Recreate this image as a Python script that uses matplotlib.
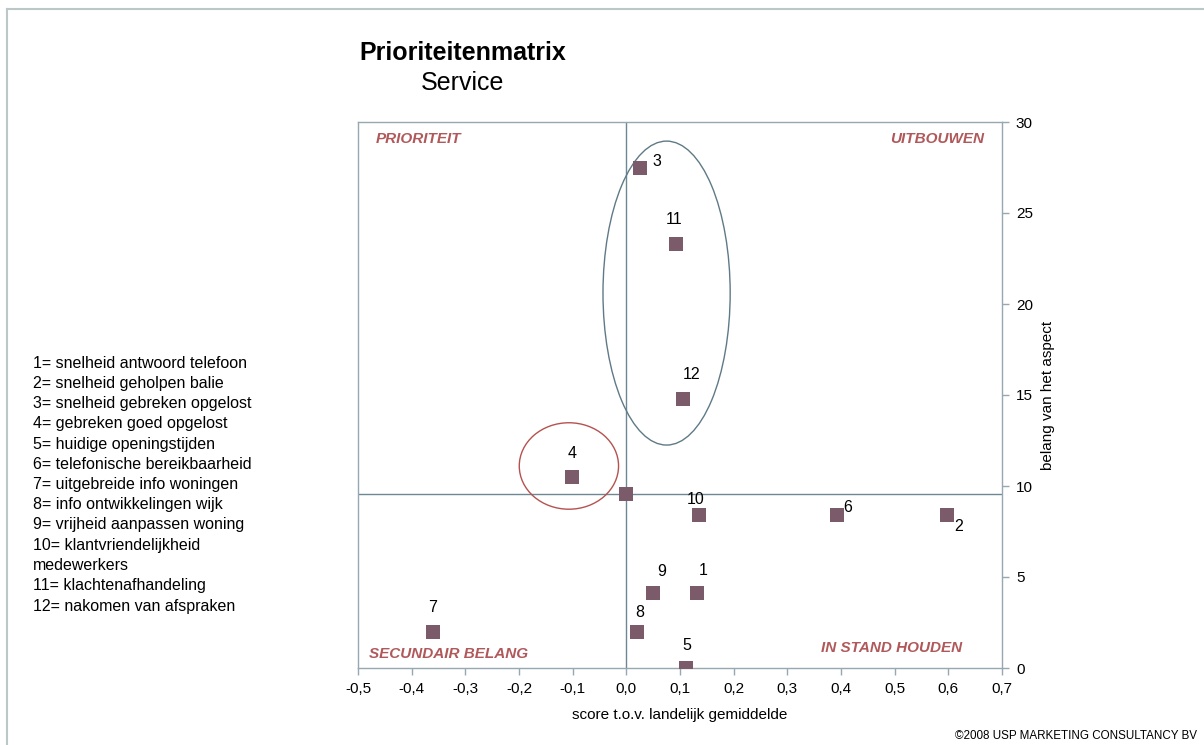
import matplotlib
matplotlib.use("Agg")
import matplotlib.pyplot as plt
from matplotlib.patches import Ellipse
from matplotlib.lines import Line2D

plt.rcParams['font.family'] = ['Liberation Sans', 'DejaVu Sans']

# Aspect scores: deviation from national average (x) and importance (y)
aspect_ids = ['1', '2', '3', '4', '5', '6', '7', '8', '9', '10', '11', '12']
score_vs_avg = [0.131, 0.597, 0.025, -0.101, 0.112, 0.392, -0.360, 0.020, 0.049, 0.136, 0.093, 0.105]
importance = [4.1, 8.4, 27.5, 10.5, 0.0, 8.4, 2.0, 2.0, 4.1, 8.4, 23.3, 14.8]

# Crossing point of the quadrants (average)
cross_x = [0.0]
cross_y = [9.55]

legend_lines = [
    "1= snelheid antwoord telefoon",
    "2= snelheid geholpen balie",
    "3= snelheid gebreken opgelost",
    "4= gebreken goed opgelost",
    "5= huidige openingstijden",
    "6= telefonische bereikbaarheid",
    "7= uitgebreide info woningen",
    "8= info ontwikkelingen wijk",
    "9= vrijheid aanpassen woning",
    "10= klantvriendelijkheid",
    "medewerkers",
    "11= klachtenafhandeling",
    "12= nakomen van afspraken",
]

x_ticks = [-0.5, -0.4, -0.3, -0.2, -0.1, 0.0, 0.1, 0.2, 0.3, 0.4, 0.5, 0.6, 0.7]
y_ticks = [0, 5, 10, 15, 20, 25, 30]

# Label offsets in pixels (dx, dy) for each aspect number
label_offsets = {
    '1': (7, 23), '2': (12, -11), '3': (17, 6), '4': (0, 23),
    '5': (0, 23), '6': (11, 8), '7': (-1, 24), '8': (3, 19),
    '9': (9, 22), '10': (-4, 16), '11': (-2, 24), '12': (9, 24),
}

W, H = 1204, 745
fig = plt.figure(figsize=(W / 100, H / 100), dpi=100)
fig.patch.set_facecolor('white')

ax_l, ax_r, ax_t, ax_b = 358, 1002, 122, 668
ax = fig.add_axes([ax_l / W, 1 - ax_b / H, (ax_r - ax_l) / W, (ax_b - ax_t) / H])

spine_col = '#98A8B0'
quad_col = '#6E8793'
marker_col = '#7B5A69'
quad_text_col = '#B0585A'

ax.set_xlim(-0.5, 0.7)
ax.set_ylim(0, 30)
for s in ax.spines.values():
    s.set_color(spine_col)
    s.set_linewidth(1.0)

ax.yaxis.tick_right()
ax.yaxis.set_label_position('right')
ax.set_xticks(x_ticks)
ax.set_xticklabels([f"{v:.1f}".replace('.', ',') for v in x_ticks])
ax.set_yticks(y_ticks)
ax.set_yticklabels([str(v) for v in y_ticks])
ax.tick_params(axis='both', direction='out', length=5, width=1.0, color=spine_col,
               labelsize=11, labelcolor='black')
ax.tick_params(axis='x', pad=5)
ax.tick_params(axis='y', pad=5)

ax.set_xlabel('score t.o.v. landelijk gemiddelde', fontsize=11, labelpad=9)
ax.set_ylabel('belang van het aspect', fontsize=11, labelpad=6)

# Quadrant lines
ax.axvline(cross_x[0], color=quad_col, lw=1.0, zorder=1)
ax.axhline(cross_y[0], color=quad_col, lw=1.0, zorder=1)

# Highlight ellipses
ax.add_patch(Ellipse((0.075, 20.6), 0.237, 16.7, fill=False, ec='#5F7A86', lw=1.0, zorder=2))
ax.add_patch(Ellipse((-0.107, 11.1), 0.185, 4.75, fill=False, ec='#B5524F', lw=1.0, zorder=2))

# Points
ax.scatter(score_vs_avg + cross_x, importance + cross_y, marker='s', s=90,
           color=marker_col, linewidths=0, zorder=3, clip_on=True)

for lab, x, y in zip(aspect_ids, score_vs_avg, importance):
    dx, dy = label_offsets[lab]
    ax.annotate(lab, (x, y), xytext=(dx, dy), textcoords='offset pixels',
                ha='center', va='center', fontsize=11.5, color='black', zorder=4)

# Quadrant names
qkw = dict(fontsize=11, fontweight='bold', fontstyle='italic', color=quad_text_col,
           transform=ax.transAxes, va='center')
ax.text(0.028, 0.969, 'PRIORITEIT', ha='left', **qkw)
ax.text(0.972, 0.969, 'UITBOUWEN', ha='right', **qkw)
ax.text(0.017, 0.025, 'SECUNDAIR BELANG', ha='left', **qkw)
ax.text(0.938, 0.036, 'IN STAND HOUDEN', ha='right', **qkw)

# Titles
fig.text(463 / W, 1 - 53 / H, 'Prioriteitenmatrix', ha='center', va='center',
         fontsize=18, fontweight='bold')
fig.text(463 / W, 1 - 83 / H, 'Service', ha='center', va='center', fontsize=18)

# Aspect legend
y0, step = 363, 20.25
for i, line in enumerate(legend_lines):
    fig.text(33 / W, 1 - (y0 + i * step) / H, line, ha='left', va='center', fontsize=11.5)

# Footer
fig.text(1197 / W, 1 - 736 / H, '\u00a92008 USP MARKETING CONSULTANCY BV',
         ha='right', va='center', fontsize=8.4)

# Page frame (top and left)
frame_col = '#BCC8C8'
fig.add_artist(Line2D([7 / W, 1.0], [1 - 9 / H, 1 - 9 / H], transform=fig.transFigure,
                      color=frame_col, lw=1.5))
fig.add_artist(Line2D([7 / W, 7 / W], [0, 1 - 9 / H], transform=fig.transFigure,
                      color=frame_col, lw=1.5))

fig.savefig('out.png', dpi=100)
